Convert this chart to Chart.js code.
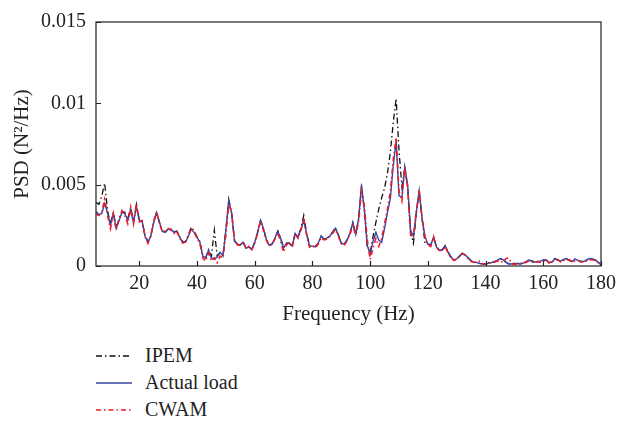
<!DOCTYPE html>
<html>
<head>
<meta charset="utf-8">
<script src="https://cdn.jsdelivr.net/npm/chart.js@4/dist/chart.umd.min.js"></script>
<style>
  html, body { margin: 0; padding: 0; background: #fff; }
  #wrap { position: relative; width: 622px; height: 423px; }
  #box { position: absolute; left: 0; top: 0; width: 622px; height: 335px; }
  #legend { position: absolute; left: 96px; top: 342px; font-family: "Liberation Serif", "DejaVu Serif", serif; font-size: 20px; color: #222; }
  .item { display: flex; align-items: center; height: 27px; }
  .item svg { margin-right: 13px; }
</style>
</head>
<body>
<div id="wrap">
  <div id="box"><canvas id="psdChart" width="622" height="335"></canvas></div>
  <div id="legend"></div>
</div>
<script>
// frequency axis (Hz)
const freq = [
  5, 6, 7, 8, 9, 10, 11, 12, 13, 14, 15, 16, 17, 18, 19, 20, 21, 22, 23, 24,
  25, 26, 27, 28, 29, 30, 31, 32, 33, 34, 35, 36, 37, 38, 39, 40, 41, 42, 43, 44,
  45, 46, 47, 48, 49, 50, 51, 52, 53, 54, 55, 56, 57, 58, 59, 60, 61, 62, 63, 64,
  65, 66, 67, 68, 69, 70, 71, 72, 73, 74, 75, 76, 77, 78, 79, 80, 81, 82, 83, 84,
  85, 86, 87, 88, 89, 90, 91, 92, 93, 94, 95, 96, 97, 98, 99, 100, 101, 102, 103, 104,
  105, 106, 107, 108, 109, 110, 111, 112, 113, 114, 115, 116, 117, 118, 119, 120, 121, 122, 123, 124,
  125, 126, 127, 128, 129, 130, 131, 132, 133, 134, 135, 136, 137, 138, 139, 140, 141, 142, 143, 144,
  145, 146, 147, 148, 149, 150, 151, 152, 153, 154, 155, 156, 157, 158, 159, 160, 161, 162, 163, 164,
  165, 166, 167, 168, 169, 170, 171, 172, 173, 174, 175, 176, 177, 178, 179, 180
];

// Actual load PSD
const actualLoad = [
  0.00335, 0.00317, 0.00323, 0.00384, 0.00329, 0.00250, 0.00323, 0.00232, 0.00280, 0.00329,
  0.00323, 0.00280, 0.00341, 0.00268, 0.00366, 0.00280, 0.00274, 0.00183, 0.00146, 0.00183,
  0.00268, 0.00329, 0.00268, 0.00213, 0.00207, 0.00226, 0.00226, 0.00207, 0.00213, 0.00177,
  0.00146, 0.00146, 0.00183, 0.00226, 0.00207, 0.00177, 0.00146, 0.00061, 0.00049, 0.00098,
  0.00049, 0.00043, 0.00055, 0.00085, 0.00061, 0.00220, 0.00402, 0.00323, 0.00152, 0.00134,
  0.00128, 0.00146, 0.00110, 0.00116, 0.00104, 0.00146, 0.00207, 0.00280, 0.00232, 0.00165,
  0.00128, 0.00134, 0.00171, 0.00213, 0.00171, 0.00110, 0.00140, 0.00140, 0.00122, 0.00201,
  0.00177, 0.00226, 0.00280, 0.00195, 0.00122, 0.00122, 0.00119, 0.00140, 0.00183, 0.00165,
  0.00171, 0.00183, 0.00207, 0.00232, 0.00189, 0.00140, 0.00134, 0.00159, 0.00201, 0.00268,
  0.00195, 0.00293, 0.00500, 0.00341, 0.00128, 0.00073, 0.00152, 0.00207, 0.00159, 0.00146,
  0.00232, 0.00329, 0.00415, 0.00616, 0.00768, 0.00433, 0.00421, 0.00610, 0.00494, 0.00220,
  0.00183, 0.00329, 0.00463, 0.00293, 0.00183, 0.00134, 0.00128, 0.00177, 0.00116, 0.00098,
  0.00098, 0.00122, 0.00085, 0.00055, 0.00037, 0.00043, 0.00061, 0.00079, 0.00067, 0.00049,
  0.00030, 0.00024, 0.00021, 0.00015, 0.00012, 0.00010, 0.00018, 0.00021, 0.00027, 0.00034,
  0.00046, 0.00040, 0.00024, 0.00012, 0.00012, 0.00015, 0.00015, 0.00012, 0.00018, 0.00027,
  0.00037, 0.00030, 0.00024, 0.00024, 0.00030, 0.00037, 0.00037, 0.00021, 0.00024, 0.00046,
  0.00037, 0.00030, 0.00040, 0.00046, 0.00034, 0.00027, 0.00043, 0.00034, 0.00027, 0.00027,
  0.00037, 0.00046, 0.00043, 0.00037, 0.00024, 0.00006
];

// CWAM identified PSD
const cwam = [
  0.00320, 0.00310, 0.00330, 0.00410, 0.00310, 0.00230, 0.00320, 0.00220, 0.00290, 0.00340,
  0.00310, 0.00260, 0.00360, 0.00260, 0.00380, 0.00270, 0.00280, 0.00180, 0.00140, 0.00190,
  0.00275, 0.00335, 0.00260, 0.00210, 0.00215, 0.00230, 0.00220, 0.00200, 0.00215, 0.00170,
  0.00140, 0.00150, 0.00190, 0.00235, 0.00210, 0.00170, 0.00140, 0.00050, 0.00030, 0.00080,
  0.00030, 0.00050, 0.00020, 0.00060, 0.00050, 0.00190, 0.00380, 0.00330, 0.00160, 0.00130,
  0.00125, 0.00150, 0.00105, 0.00120, 0.00100, 0.00140, 0.00200, 0.00275, 0.00220, 0.00160,
  0.00125, 0.00130, 0.00165, 0.00205, 0.00150, 0.00085, 0.00130, 0.00145, 0.00115, 0.00195,
  0.00170, 0.00220, 0.00290, 0.00190, 0.00115, 0.00125, 0.00110, 0.00135, 0.00175, 0.00160,
  0.00165, 0.00180, 0.00200, 0.00225, 0.00185, 0.00135, 0.00125, 0.00155, 0.00195, 0.00250,
  0.00190, 0.00270, 0.00460, 0.00370, 0.00160, 0.00040, 0.00110, 0.00170, 0.00120, 0.00170,
  0.00260, 0.00350, 0.00460, 0.00650, 0.00790, 0.00460, 0.00400, 0.00610, 0.00480, 0.00190,
  0.00175, 0.00335, 0.00470, 0.00290, 0.00175, 0.00130, 0.00120, 0.00180, 0.00110, 0.00095,
  0.00095, 0.00120, 0.00080, 0.00050, 0.00035, 0.00040, 0.00060, 0.00075, 0.00065, 0.00045,
  0.00028, 0.00022, 0.00025, 0.00030, 0.00015, 0.00012, 0.00020, 0.00018, 0.00022, 0.00030,
  0.00035, 0.00020, 0.00045, 0.00050, 0.00015, 0.00010, 0.00012, 0.00015, 0.00020, 0.00022,
  0.00030, 0.00025, 0.00020, 0.00028, 0.00022, 0.00030, 0.00040, 0.00018, 0.00035, 0.00028,
  0.00040, 0.00025, 0.00035, 0.00030, 0.00040, 0.00022, 0.00030, 0.00035, 0.00025, 0.00022,
  0.00030, 0.00035, 0.00040, 0.00030, 0.00020, 0.00010
];

// IPEM identified PSD
const ipem = [
  0.00390, 0.00380, 0.00430, 0.00510, 0.00340, 0.00260, 0.00330, 0.00240, 0.00285, 0.00335,
  0.00330, 0.00285, 0.00360, 0.00270, 0.00380, 0.00285, 0.00275, 0.00185, 0.00150, 0.00185,
  0.00270, 0.00330, 0.00270, 0.00215, 0.00210, 0.00225, 0.00225, 0.00210, 0.00215, 0.00180,
  0.00150, 0.00150, 0.00185, 0.00240, 0.00215, 0.00180, 0.00150, 0.00065, 0.00050, 0.00100,
  0.00060, 0.00220, 0.00060, 0.00085, 0.00065, 0.00220, 0.00410, 0.00325, 0.00155, 0.00135,
  0.00130, 0.00145, 0.00110, 0.00118, 0.00105, 0.00145, 0.00205, 0.00280, 0.00235, 0.00165,
  0.00130, 0.00135, 0.00170, 0.00215, 0.00170, 0.00112, 0.00140, 0.00140, 0.00125, 0.00200,
  0.00180, 0.00230, 0.00310, 0.00200, 0.00125, 0.00122, 0.00120, 0.00140, 0.00185, 0.00165,
  0.00170, 0.00185, 0.00210, 0.00235, 0.00190, 0.00140, 0.00135, 0.00160, 0.00200, 0.00265,
  0.00195, 0.00290, 0.00480, 0.00350, 0.00120, 0.00080, 0.00180, 0.00270, 0.00350, 0.00420,
  0.00480, 0.00570, 0.00700, 0.00880, 0.01030, 0.00710, 0.00490, 0.00600, 0.00490, 0.00210,
  0.00140, 0.00325, 0.00460, 0.00290, 0.00140, 0.00135, 0.00130, 0.00175, 0.00118, 0.00100,
  0.00100, 0.00125, 0.00085, 0.00055, 0.00038, 0.00045, 0.00060, 0.00080, 0.00068, 0.00050,
  0.00032, 0.00025, 0.00022, 0.00016, 0.00013, 0.00011, 0.00019, 0.00022, 0.00026, 0.00033,
  0.00045, 0.00038, 0.00025, 0.00013, 0.00013, 0.00016, 0.00016, 0.00013, 0.00019, 0.00026,
  0.00036, 0.00031, 0.00025, 0.00025, 0.00031, 0.00036, 0.00036, 0.00022, 0.00025, 0.00045,
  0.00036, 0.00031, 0.00039, 0.00045, 0.00035, 0.00028, 0.00042, 0.00035, 0.00028, 0.00028,
  0.00036, 0.00045, 0.00042, 0.00036, 0.00025, 0.00007
];

const xTicks = [20, 40, 60, 80, 100, 120, 140, 160, 180];
const yTicks = [0, 0.005, 0.01, 0.015];

const seriesNames = ['IPEM', 'Actual load', 'CWAM'];
const seriesColors = ['#111111', '#3446a6', '#ee1c25'];
const seriesDash = [[6, 3, 1.5, 3], [], [5, 3, 1.5, 3]];

const FONT = '"Liberation Serif", "DejaVu Serif", serif';

const toPoints = arr => freq.map((f, i) => ({ x: f, y: arr[i] }));

// box around the plot and inward tick marks
const framePlugin = {
  id: 'frame',
  afterDraw(chart) {
    const { ctx, chartArea: a, scales } = chart;
    ctx.save();
    ctx.strokeStyle = '#222';
    ctx.lineWidth = 1.2;
    ctx.strokeRect(a.left, a.top, a.right - a.left, a.bottom - a.top);
    ctx.beginPath();
    xTicks.forEach(v => {
      const px = Math.round(scales.x.getPixelForValue(v)) + 0.5;
      ctx.moveTo(px, a.bottom);
      ctx.lineTo(px, a.bottom - 5);
    });
    yTicks.forEach(v => {
      const py = Math.round(scales.y.getPixelForValue(v)) + 0.5;
      ctx.moveTo(a.left, py);
      ctx.lineTo(a.left + 5, py);
    });
    ctx.stroke();
    ctx.restore();
  }
};

new Chart(document.getElementById('psdChart'), {
  type: 'line',
  data: {
    datasets: [
      { label: 'CWAM',        data: toPoints(cwam),       borderColor: seriesColors[2], borderWidth: 1.6, borderDash: seriesDash[2], order: 0 },
      { label: 'Actual load', data: toPoints(actualLoad), borderColor: seriesColors[1], borderWidth: 1.4, order: 1 },
      { label: 'IPEM',        data: toPoints(ipem),       borderColor: seriesColors[0], borderWidth: 1.3, borderDash: seriesDash[0], order: 2 },
    ],
  },
  options: {
    responsive: false,
    animation: false,
    elements: { point: { radius: 0 }, line: { tension: 0 } },
    layout: { padding: { left: 0, right: 15, top: 20, bottom: 0 } },
    plugins: { legend: { display: false }, tooltip: { enabled: false } },
    scales: {
      x: {
        type: 'linear', min: 5, max: 180,
        afterBuildTicks: s => { s.ticks = xTicks.map(v => ({ value: v })); },
        afterFit: s => { s.height = 69; },
        grid: { display: false, drawTicks: false },
        border: { display: false },
        ticks: { color: '#222', padding: 6, font: { family: FONT, size: 20 } },
        title: { display: true, text: 'Frequency (Hz)', color: '#222', padding: { top: 0, bottom: 8 }, font: { family: FONT, size: 21 } },
      },
      y: {
        type: 'linear', min: 0, max: 0.015,
        afterBuildTicks: s => { s.ticks = yTicks.map(v => ({ value: v })); },
        afterFit: s => { s.width = 96; },
        grid: { display: false, drawTicks: false },
        border: { display: false },
        ticks: { color: '#222', padding: 10, font: { family: FONT, size: 20 }, callback: v => String(parseFloat(v.toFixed(3))) },
        title: { display: true, text: 'PSD (N²/Hz)', color: '#222', padding: { top: 10, bottom: 0 }, font: { family: FONT, size: 21 } },
      },
    },
  },
  plugins: [framePlugin],
});

// legend below the chart, one entry per line
const legend = document.getElementById('legend');
seriesNames.forEach((name, i) => {
  const dash = seriesDash[i].length ? `stroke-dasharray="${seriesDash[i].join(' ')}"` : '';
  legend.innerHTML += `<div class="item">
    <svg width="36" height="10"><line x1="0" y1="5" x2="36" y2="5" stroke="${seriesColors[i]}" stroke-width="1.5" ${dash}/></svg>
    <span>${name}</span></div>`;
});
</script>
</body>
</html>
